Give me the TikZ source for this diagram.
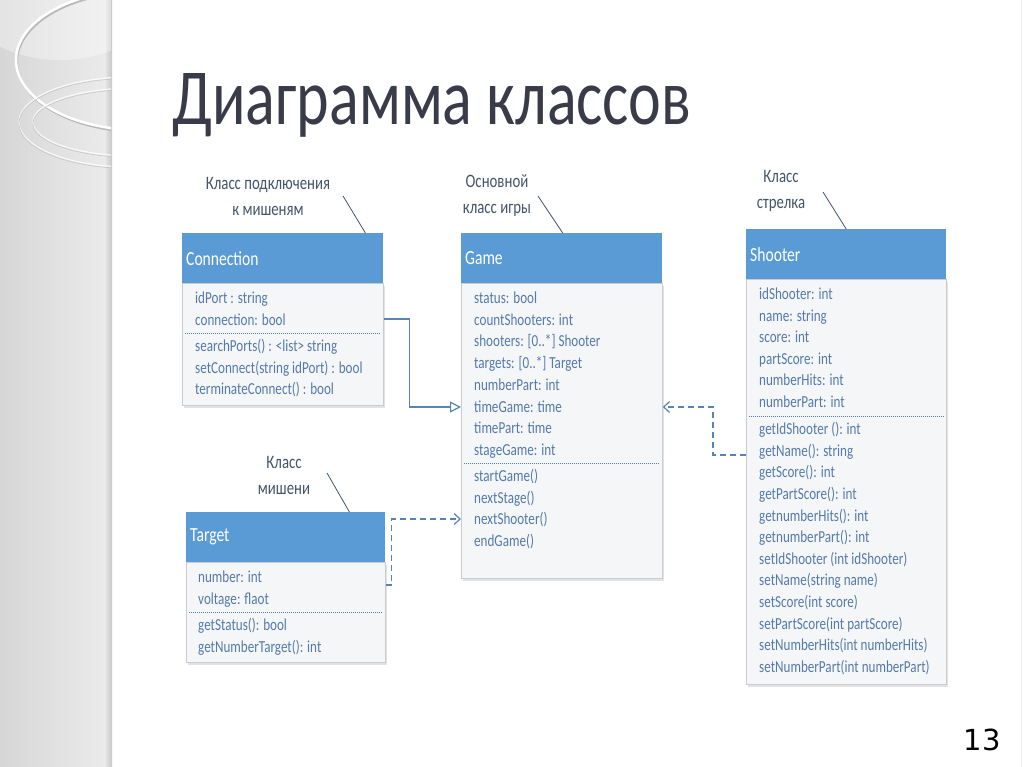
\documentclass[tikz,border=0pt]{standalone}
\usepackage{fontspec}
\setmainfont{Carlito}
\newfontfamily\cf[FakeStretch=0.78]{Carlito}
\newfontfamily\numfont{DejaVu Sans}
\usetikzlibrary{arrows.meta,calc,shadows}
\definecolor{hdr}{RGB}{91,155,213}
\definecolor{bodyfill}{RGB}{245,246,248}
\definecolor{bodyline}{RGB}{200,204,210}
\definecolor{txt}{RGB}{84,122,170}
\definecolor{notec}{RGB}{68,84,106}
\definecolor{connc}{RGB}{90,130,180}
\definecolor{titlec}{RGB}{58,59,72}
\begin{document}
\begin{tikzpicture}[x=1pt,y=-1pt,
  classhead/.style={fill=hdr, anchor=north west, inner xsep=4pt, inner ysep=0pt,
    minimum height=50pt, text=white, align=left, font=\cf\fontsize{20}{24}\selectfont},
  classbody/.style={fill=bodyfill, draw=bodyline, line width=0.8pt, anchor=north west, inner sep=0pt,
    drop shadow={opacity=0.22, shadow xshift=1.5pt, shadow yshift=-2.5pt}},
  member/.style={anchor=base west, inner sep=0pt, text=txt, font=\cf\fontsize{16.8}{19}\selectfont},
  sepline/.style={draw=txt, line width=0.8pt, dash pattern=on 1pt off 1pt},
  notetext/.style={align=center, text=notec, inner sep=0pt, font=\cf\fontsize{19}{26}\selectfont},
  noteline/.style={draw=notec, line width=0.8pt},
  solidlink/.style={draw=connc, line width=1.2pt, -{Triangle[open,length=11pt,width=11pt,line width=1.2pt]}},
  dashlink/.style={draw=connc, line width=1.2pt, dash pattern=on 6pt off 4pt,
    -{Straight Barb[length=6pt,width=11pt,line width=1.2pt]}}
]
\useasboundingbox (0,0) rectangle (1024,767);
\fill[white] (0,0) rectangle (1024,767);
% left decorative strip
\shade[left color=gray!32, right color=gray!16] (0,0) rectangle (106,767);
\shade[left color=gray!24, right color=gray!44] (106,0) rectangle (112,767);
\begin{scope}
  \clip (0,0) rectangle (111,767);
  \fill[white, opacity=0.35] (60,-40) ellipse [x radius=120, y radius=100];
  \draw[gray!55, line width=2pt] (141,62) ellipse [x radius=124, y radius=70];
  \draw[white, line width=2.5pt] (140,60) ellipse [x radius=124, y radius=70];
  \draw[white, opacity=0.8, line width=1.2pt] (130,122) ellipse [x radius=111, y radius=45];
  \draw[gray!45, line width=0.6pt] (130,123.5) ellipse [x radius=111, y radius=45];
  \draw[white, opacity=0.8, line width=1.2pt] (135,122) ellipse [x radius=102, y radius=34];
  \draw[gray!45, line width=0.6pt] (135,123.5) ellipse [x radius=102, y radius=34];
\end{scope}
\draw[gray!12, line width=1pt] (1021,0) -- (1021,767);
% title
\node[anchor=base west, inner sep=0pt, text=titlec, font=\cf\fontsize{79.5}{80}\selectfont] (title) at (172,125) {Диаграмма классов};
% page number
\node[anchor=base, inner sep=0pt, font=\numfont\fontsize{29}{30}\selectfont] (pnum) at (982,750) {13};

% ---------- Connection ----------
\node[classbody, minimum width=201pt, minimum height=122pt] (connB) at (182,283) {};
\node[classhead, text width=193pt] (connH) at (182,233) {Connection};
\foreach \t [count=\i] in {{idPort : string},{connection: bool}}
  \node[member] (connA\i) at (195,{303.5+21.5*(\i-1)}) {\t};
\draw[sepline] ($(connB.north west)+(3,50)$) -- ($(connB.north east)+(-3,50)$);
\foreach \t [count=\i] in {{searchPorts() : <list> string},{setConnect(string idPort) : bool},{terminateConnect() : bool}}
  \node[member] (connM\i) at (195,{351.5+21.5*(\i-1)}) {\t};

% ---------- Game ----------
\node[classbody, minimum width=201pt, minimum height=295pt] (gameB) at (461,283) {};
\node[classhead, text width=193pt] (gameH) at (461,233) {Game};
\foreach \t [count=\i] in {{status: bool},{countShooters: int},{shooters: [0..*] Shooter},{targets: [0..*] Target},{numberPart: int},{timeGame: time},{timePart: time},{stageGame: int}}
  \node[member] (gameA\i) at (474,{303.5+21.7*(\i-1)}) {\t};
\draw[sepline] ($(gameB.north west)+(3,180)$) -- ($(gameB.north east)+(-3,180)$);
\foreach \t [count=\i] in {{startGame()},{nextStage()},{nextShooter()},{endGame()}}
  \node[member] (gameM\i) at (474,{481.5+21.7*(\i-1)}) {\t};

% ---------- Shooter ----------
\node[classbody, minimum width=200pt, minimum height=405pt] (shootB) at (746,279) {};
\node[classhead, text width=192pt] (shootH) at (746,229) {Shooter};
\foreach \t [count=\i] in {{idShooter: int},{name: string},{score: int},{partScore: int},{numberHits: int},{numberPart: int}}
  \node[member] (shootA\i) at (759,{299.5+21.6*(\i-1)}) {\t};
\draw[sepline] ($(shootB.north west)+(3,137)$) -- ($(shootB.north east)+(-3,137)$);
\foreach \t [count=\i] in {{getIdShooter (): int},{getName(): string},{getScore(): int},{getPartScore(): int},{getnumberHits(): int},{getnumberPart(): int},{setIdShooter (int idShooter)},{setName(string name)},{setScore(int score)},{setPartScore(int partScore)},{setNumberHits(int numberHits)},{setNumberPart(int numberPart)}}
  \node[member] (shootM\i) at (759,{434.5+21.64*(\i-1)}) {\t};

% ---------- Target ----------
\node[classbody, minimum width=199pt, minimum height=100pt] (targB) at (186,562) {};
\node[classhead, text width=191pt] (targH) at (186,512) {Target};
\foreach \t [count=\i] in {{number: int},{voltage: flaot}}
  \node[member] (targA\i) at (198,{582.5+21.6*(\i-1)}) {\t};
\draw[sepline] ($(targB.north west)+(3,50)$) -- ($(targB.north east)+(-3,50)$);
\foreach \t [count=\i] in {{getStatus(): bool},{getNumberTarget(): int}}
  \node[member] (targM\i) at (198,{630.5+21.6*(\i-1)}) {\t};

% ---------- notes ----------
\node[notetext] (noteC) at (268,196) {Класс подключения\\к мишеням};
\coordinate (noteCp) at (343,196);
\draw[noteline] (noteCp) -- ($(connH.north east)+(-18,0)$);
\node[notetext] (noteG) at (497,196) {Основной\\класс игры};
\coordinate (noteGp) at (538,196);
\draw[noteline] (noteGp) -- ($(gameH.north)+(1,0)$);
\node[notetext] (noteS) at (781,191) {Класс\\стрелка};
\coordinate (noteSp) at (823,192);
\draw[noteline] (noteSp) -- (shootH.north);
\node[notetext] (noteT) at (284,475) {Класс\\мишени};
\coordinate (noteTp) at (327,473);
\draw[noteline] (noteTp) -- ($(targH.north east)+(-36,0)$);

% ---------- connectors ----------
\coordinate (cg1) at ($(connB.north east)+(0,36)$);
\coordinate (cg2) at ($(gameB.north west)+(0,124)$);
\draw[solidlink] (cg1) -- ++(26,0) |- (cg2);
\coordinate (tg1) at ($(targB.north east)+(0,23)$);
\coordinate (tg2) at ($(gameB.north west)+(0,236)$);
\draw[dashlink] (tg1) -- ++(6,0) |- (tg2);
\coordinate (sg1) at ($(shootB.north west)+(0,176)$);
\coordinate (sg2) at ($(gameB.north east)+(0,124)$);
\draw[dashlink] (sg1) -- ++(-33,0) |- (sg2);
\end{tikzpicture}
\end{document}
